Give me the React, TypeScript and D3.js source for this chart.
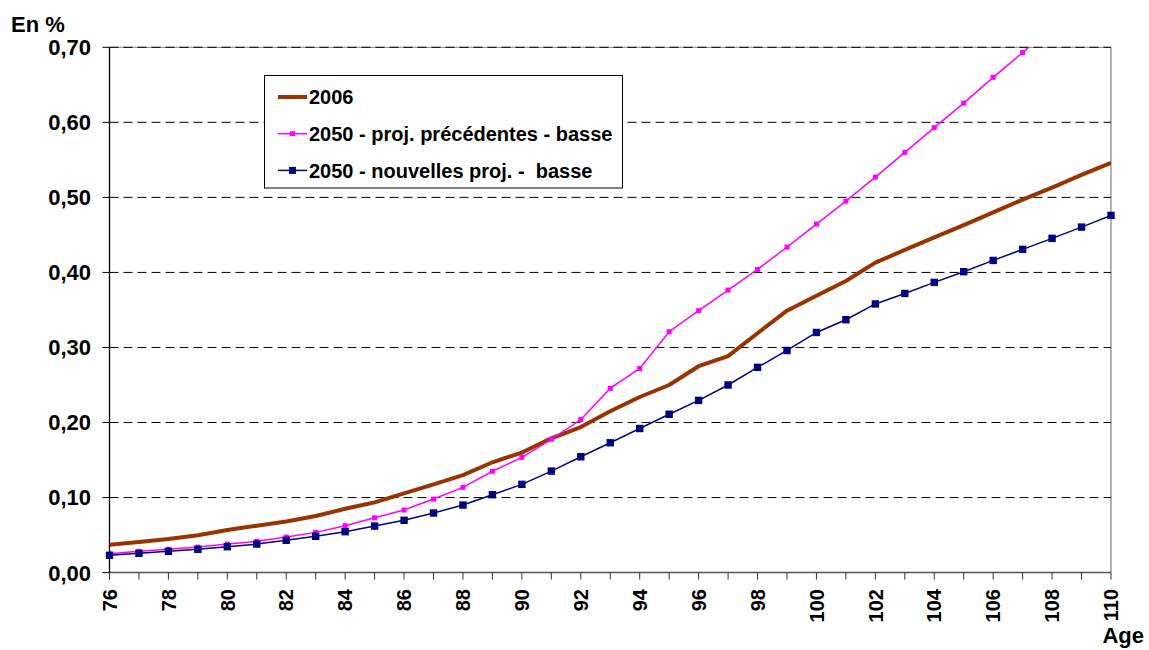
import React from "react";
import * as d3 from "d3";

const ages = d3.range(76, 111);
const serie2006 = [0.037, 0.0407, 0.0447, 0.0497, 0.0567, 0.0625, 0.068, 0.0754, 0.085, 0.0936, 0.1056, 0.1176, 0.13, 0.147, 0.16, 0.179, 0.194, 0.215, 0.234, 0.25, 0.275, 0.2885, 0.319, 0.349, 0.369, 0.3885, 0.413, 0.43, 0.4467, 0.463, 0.48, 0.497, 0.513, 0.53, 0.546];
const serieAnc = [0.025, 0.0283, 0.031, 0.034, 0.038, 0.0417, 0.0474, 0.0536, 0.0625, 0.073, 0.0834, 0.098, 0.1136, 0.135, 0.1536, 0.1776, 0.204, 0.2455, 0.272, 0.321, 0.349, 0.3765, 0.404, 0.4338, 0.4644, 0.495, 0.527, 0.56, 0.593, 0.6256, 0.66, 0.693, 0.727];
const serieNouv = [0.023, 0.0257, 0.0283, 0.031, 0.0345, 0.038, 0.043, 0.0484, 0.0545, 0.062, 0.0697, 0.0794, 0.09, 0.1038, 0.1176, 0.1353, 0.1544, 0.173, 0.192, 0.211, 0.2295, 0.25, 0.2735, 0.296, 0.32, 0.337, 0.358, 0.372, 0.3867, 0.401, 0.416, 0.4307, 0.4454, 0.4604, 0.476];
const yTicks = [0, 0.1, 0.2, 0.3, 0.4, 0.5, 0.6, 0.7];
const xLabels = d3.range(76, 111, 2);
const legendLabels = ["2006", "2050 - proj. précédentes - basse", "2050 - nouvelles proj. -  basse"];

const W = 1149, H = 650;
const L = 109.5, R = 1111, T = 47.3, B = 572.6;
const FONT = "'Liberation Sans', Arial, sans-serif";

export default function App() {
  const x = d3.scaleLinear().domain([76, 110]).range([L, R]);
  const y = d3.scaleLinear().domain([0, 0.7]).range([B, T]);
  const line = d3.line<number>().x((d, i) => x(ages[i])).y((d) => y(d));
  const fmt = (v: number) => v.toFixed(2).replace(".", ",");
  const colors = ["#993300", "#FF00FF", "#000080"];

  return (
    <svg width={W} height={H} style={{ position: "absolute", left: 0, top: 0, display: "block", background: "#fff" }} fontFamily={FONT}>
      <defs>
        <clipPath id="plot">
          <rect x={L} y={T} width={R - L} height={B - T} />
        </clipPath>
      </defs>
      {/* plot border (top / right) */}
      <line x1={L} x2={R} y1={T} y2={T} stroke="#9a9a9a" strokeWidth={1.2} />
      <line x1={R} x2={R} y1={T} y2={B} stroke="#9a9a9a" strokeWidth={1.5} />
      {/* grid */}
      {yTicks.filter((v) => v > 0).map((v) => (
        <line key={v} x1={L} x2={R} y1={y(v)} y2={y(v)} stroke="#000" strokeWidth={1} strokeDasharray="9,5" />
      ))}
      {/* axes */}
      <line x1={L} x2={L} y1={T} y2={B} stroke="#000" strokeWidth={1.3} />
      <line x1={L} x2={R} y1={B} y2={B} stroke="#555" strokeWidth={1.5} />
      {yTicks.map((v) => (
        <g key={"yt" + v}>
          <line x1={L - 7} x2={L} y1={y(v)} y2={y(v)} stroke="#000" />
          <text x={91} y={y(v)} dy="0.36em" textAnchor="end" fontSize={22} fontWeight="bold">{fmt(v)}</text>
        </g>
      ))}
      {ages.map((a) => (
        <line key={"xt" + a} x1={x(a)} x2={x(a)} y1={B} y2={B + 7} stroke="#333" />
      ))}
      {xLabels.map((a) => (
        <text key={"xl" + a} transform={`translate(${x(a)},589) rotate(-90)`} textAnchor="end" dy="0.36em" fontSize={20} fontWeight="bold">{a}</text>
      ))}
      <text x={11} y={32} fontSize={22} fontWeight="bold">En %</text>
      <text x={1144} y={643} textAnchor="end" fontSize={22} fontWeight="bold">Age</text>

      {/* series */}
      <g clipPath="url(#plot)">
        <path d={line(serie2006) || ""} fill="none" stroke={colors[0]} strokeWidth={4} strokeLinejoin="round" />
        <path d={line(serieAnc) || ""} fill="none" stroke={colors[1]} strokeWidth={1.5} />
        {serieAnc.map((v, i) => (
          <rect key={"m" + i} x={x(ages[i]) - 2.5} y={y(v) - 2.5} width={5} height={5} fill={colors[1]} />
        ))}
        <path d={line(serieNouv) || ""} fill="none" stroke={colors[2]} strokeWidth={1.5} />
      </g>
      {serieNouv.map((v, i) => (
        <rect key={"n" + i} x={x(ages[i]) - 3.7} y={y(v) - 3.7} width={7.4} height={7.4} fill={colors[2]} />
      ))}

      {/* legend */}
      <rect x={264.5} y={75.5} width={358} height={112.5} fill="#fff" stroke="#000" strokeWidth={1} />
      {legendLabels.map((lab, i) => {
        const ly = 97 + i * 36.7;
        return (
          <g key={lab}>
            <line x1={278} x2={307} y1={ly} y2={ly} stroke={colors[i]} strokeWidth={i === 0 ? 4 : 1.5} />
            {i === 1 && <rect x={290} y={ly - 2.5} width={5} height={5} fill={colors[1]} />}
            {i === 2 && <rect x={289} y={ly - 3.5} width={7} height={7} fill={colors[2]} />}
            <text x={309} y={ly} dy="0.36em" fontSize={20} fontWeight="bold" style={{ whiteSpace: "pre" }}>{lab}</text>
          </g>
        );
      })}
    </svg>
  );
}
